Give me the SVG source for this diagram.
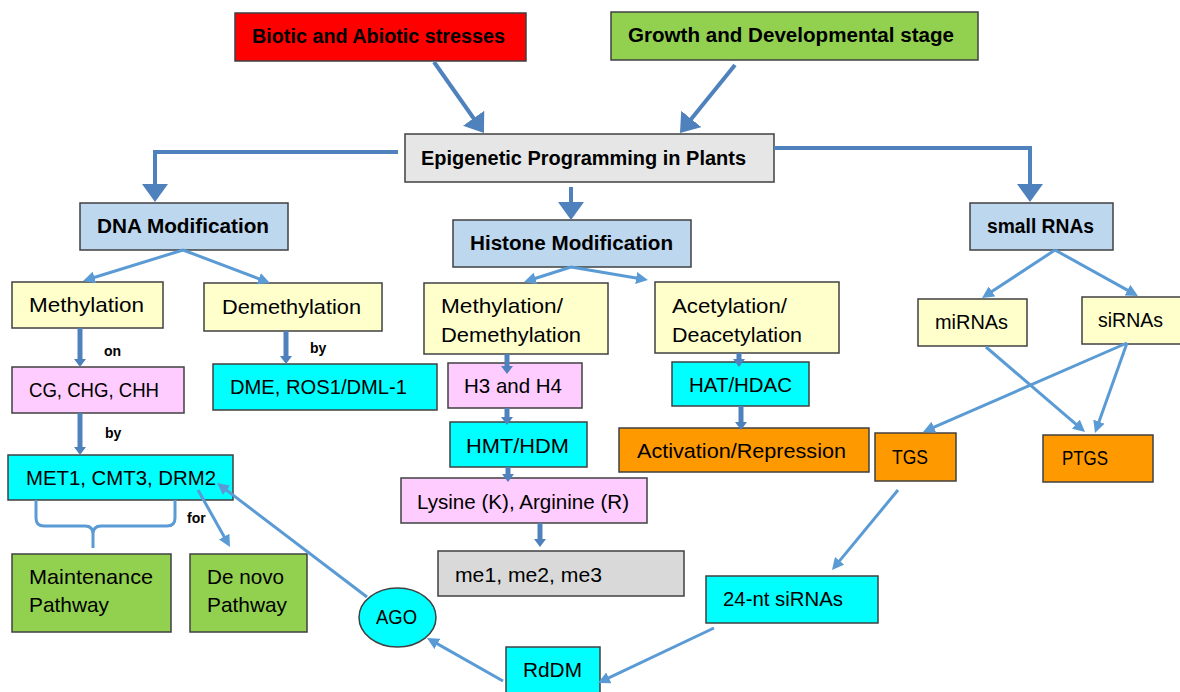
<svg xmlns="http://www.w3.org/2000/svg" width="1180" height="692" viewBox="0 0 1180 692">
<style>
text{font-family:"Liberation Sans",Arial,sans-serif;fill:#000}
.b{font-weight:bold;font-size:20px}
.r{font-size:21px}
.s{font-weight:bold;font-size:14px}
.box{stroke:#404040;stroke-width:1.5}
.red{fill:#ff0000}.grn{fill:#92d050}.gry{fill:#e6e6e6}.blu{fill:#bdd7ee}
.yel{fill:#ffffcc}.pnk{fill:#ffccff}.cyn{fill:#00ffff}.org{fill:#ff9900}.lgr{fill:#d9d9d9}
.thick{fill:none;stroke:#4f81bd;stroke-width:4}
.thin{fill:none;stroke:#5b9bd5;stroke-width:3}
.short{fill:none;stroke:#4f81bd;stroke-width:5}
</style>
<defs>
<marker id="big" viewBox="0 0 18 26" refX="4" refY="13" markerWidth="18" markerHeight="26" orient="auto" markerUnits="userSpaceOnUse"><path d="M0,0 L18,13 L0,26 Z" fill="#4f81bd"/></marker>
<marker id="tn" viewBox="0 0 12 12" refX="3" refY="6" markerWidth="12" markerHeight="12" orient="auto" markerUnits="userSpaceOnUse"><path d="M0,0 L12,6 L0,12 Z" fill="#5b9bd5"/></marker>
<marker id="sm" viewBox="0 0 8 12" refX="2" refY="6" markerWidth="8" markerHeight="12" orient="auto" markerUnits="userSpaceOnUse"><path d="M0,0 L8,6 L0,12 Z" fill="#4f81bd"/></marker>
</defs>
<rect width="1180" height="692" fill="#ffffff"/>
<g id="stress"><rect class="box red" x="235" y="13" width="291" height="48"/><text class="b" x="252" y="43" textLength="253" lengthAdjust="spacingAndGlyphs">Biotic and Abiotic stresses</text></g>
<g id="growth"><rect class="box grn" x="611" y="12" width="367" height="48"/><text class="b" x="628" y="42" textLength="326" lengthAdjust="spacingAndGlyphs">Growth and Developmental stage</text></g>
<g id="epi"><rect class="box gry" x="405" y="134" width="369" height="48"/><text class="b" x="421" y="165" textLength="325" lengthAdjust="spacingAndGlyphs">Epigenetic Programming in Plants</text></g>
<g id="dna"><rect class="box blu" x="80" y="203" width="208" height="47"/><text class="b" x="97" y="233" textLength="172" lengthAdjust="spacingAndGlyphs">DNA Modification</text></g>
<g id="histone"><rect class="box blu" x="453" y="220" width="238" height="47"/><text class="b" x="470" y="250" textLength="203" lengthAdjust="spacingAndGlyphs">Histone Modification</text></g>
<g id="srna"><rect class="box blu" x="970" y="203" width="143" height="47"/><text class="b" x="987" y="233" textLength="107" lengthAdjust="spacingAndGlyphs">small RNAs</text></g>
<g id="meth"><rect class="box yel" x="12" y="282" width="151" height="46"/><text class="r" x="29" y="312" textLength="115" lengthAdjust="spacingAndGlyphs">Methylation</text></g>
<g id="demeth"><rect class="box yel" x="204" y="283" width="178" height="48"/><text class="r" x="222" y="314" textLength="139" lengthAdjust="spacingAndGlyphs">Demethylation</text></g>
<g id="cg"><rect class="box pnk" x="12" y="367" width="172" height="46"/><text class="r" x="29" y="397" textLength="130" lengthAdjust="spacingAndGlyphs">CG, CHG, CHH</text></g>
<g id="dme"><rect class="box cyn" x="213" y="364" width="224" height="46"/><text class="r" x="230" y="394" textLength="177" lengthAdjust="spacingAndGlyphs">DME, ROS1/DML-1</text></g>
<g id="met1"><rect class="box cyn" x="8" y="455" width="225" height="45"/><text class="r" x="26" y="485" textLength="190" lengthAdjust="spacingAndGlyphs">MET1, CMT3, DRM2</text></g>
<g id="maint"><rect class="box grn" x="12" y="554" width="159" height="78"/><text class="r" x="29" y="584" textLength="124" lengthAdjust="spacingAndGlyphs">Maintenance</text><text class="r" x="29" y="612" textLength="80" lengthAdjust="spacingAndGlyphs">Pathway</text></g>
<g id="denovo"><rect class="box grn" x="190" y="554" width="117" height="78"/><text class="r" x="207" y="584" textLength="77" lengthAdjust="spacingAndGlyphs">De novo</text><text class="r" x="207" y="612" textLength="80" lengthAdjust="spacingAndGlyphs">Pathway</text></g>
<g id="ago"><ellipse class="box cyn" cx="397.5" cy="617.5" rx="38.5" ry="29.5"/><text class="r" x="376" y="624" textLength="41" lengthAdjust="spacingAndGlyphs">AGO</text></g>
<g id="mdm"><rect class="box yel" x="424" y="283" width="184" height="71"/><text class="r" x="441" y="313" textLength="122" lengthAdjust="spacingAndGlyphs">Methylation/</text><text class="r" x="441" y="342" textLength="140" lengthAdjust="spacingAndGlyphs">Demethylation</text></g>
<g id="acet"><rect class="box yel" x="655" y="282" width="184" height="71"/><text class="r" x="672" y="313" textLength="115" lengthAdjust="spacingAndGlyphs">Acetylation/</text><text class="r" x="672" y="342" textLength="130" lengthAdjust="spacingAndGlyphs">Deacetylation</text></g>
<g id="h3h4"><rect class="box pnk" x="448" y="363" width="134" height="45"/><text class="r" x="464" y="393" textLength="98" lengthAdjust="spacingAndGlyphs">H3 and H4</text></g>
<g id="hmt"><rect class="box cyn" x="450" y="422" width="137" height="45"/><text class="r" x="466" y="453" textLength="103" lengthAdjust="spacingAndGlyphs">HMT/HDM</text></g>
<g id="lys"><rect class="box pnk" x="401" y="478" width="246" height="45"/><text class="r" x="417" y="509" textLength="212" lengthAdjust="spacingAndGlyphs">Lysine (K), Arginine (R)</text></g>
<g id="me"><rect class="box lgr" x="438" y="551" width="246" height="45"/><text class="r" x="455" y="582" textLength="147" lengthAdjust="spacingAndGlyphs">me1, me2, me3</text></g>
<g id="hat"><rect class="box cyn" x="672" y="362" width="137" height="44"/><text class="r" x="689" y="392" textLength="103" lengthAdjust="spacingAndGlyphs">HAT/HDAC</text></g>
<g id="act"><rect class="box org" x="619" y="428" width="250" height="44"/><text class="r" x="637" y="458" textLength="209" lengthAdjust="spacingAndGlyphs">Activation/Repression</text></g>
<g id="mirna"><rect class="box yel" x="918" y="299" width="109" height="47"/><text class="r" x="935" y="329" textLength="73" lengthAdjust="spacingAndGlyphs">miRNAs</text></g>
<g id="sirna"><rect class="box yel" x="1082" y="297" width="100" height="47"/><text class="r" x="1098" y="327" textLength="65" lengthAdjust="spacingAndGlyphs">siRNAs</text></g>
<g id="tgs"><rect class="box org" x="875" y="433" width="81" height="48"/><text class="r" x="892" y="464" textLength="36" lengthAdjust="spacingAndGlyphs">TGS</text></g>
<g id="ptgs"><rect class="box org" x="1043" y="435" width="110" height="47"/><text class="r" x="1062" y="465" textLength="46" lengthAdjust="spacingAndGlyphs">PTGS</text></g>
<g id="nt24"><rect class="box cyn" x="706" y="576" width="172" height="47"/><text class="r" x="723" y="606" textLength="120" lengthAdjust="spacingAndGlyphs">24-nt siRNAs</text></g>
<g id="rddm"><rect class="box cyn" x="506" y="647" width="94" height="50"/><text class="r" x="523" y="677" textLength="59" lengthAdjust="spacingAndGlyphs">RdDM</text></g>
<g id="connectors">
<path class="thick" d="M434,62 L475.9,121.5" marker-end="url(#big)"/>
<path class="thick" d="M735,65 L688.8,122.1" marker-end="url(#big)"/>
<path class="thick" d="M398,152 H155 V188" marker-end="url(#big)"/>
<path class="thick" d="M774,148 H1030 V188" marker-end="url(#big)"/>
<path class="thick" d="M571,187 V206" marker-end="url(#big)"/>
<path class="thin" d="M183,250 L91.6,278.3" marker-end="url(#tn)"/>
<path class="thin" d="M183,250 L261.6,279.8" marker-end="url(#tn)"/>
<path class="thin" d="M571,267 L532.6,279.3" marker-end="url(#tn)"/>
<path class="thin" d="M571,267 L639.1,278.5" marker-end="url(#tn)"/>
<path class="thin" d="M1055,250 L989.5,293.1" marker-end="url(#tn)"/>
<path class="thin" d="M1055,250 L1130.1,291.6" marker-end="url(#tn)"/>
<path class="thin" d="M986,347 L1078.2,426.1" marker-end="url(#tn)"/>
<path class="thin" d="M1127,343 L931.2,428.4" marker-end="url(#tn)"/>
<path class="thin" d="M1127,343 L1098,424.5" marker-end="url(#tn)"/>
<path class="thin" d="M898,490 L837.7,563.1" marker-end="url(#tn)"/>
<path class="thin" d="M714,628 L606.1,679.1" marker-end="url(#tn)"/>
<path class="thin" d="M503,681 L434.8,642.4" marker-end="url(#tn)"/>
<path class="thin" d="M367,597 L224.2,488.4" marker-end="url(#tn)"/>
<path class="thin" d="M198,490 L225.6,539.2" marker-end="url(#tn)"/>
<path class="thin" d="M36,500 V518 Q36,526 44,526 H85 Q93,526 93,534 V548 M93,534 Q93,526 101,526 H167 Q175,526 175,518 V500"/>
<path class="short" d="M80,328 V361" marker-end="url(#sm)"/>
<path class="short" d="M80,413 V449" marker-end="url(#sm)"/>
<path class="short" d="M286,331 V358" marker-end="url(#sm)"/>
<path class="short" d="M507,354 V368" marker-end="url(#sm)"/>
<path class="short" d="M507,408 V419" marker-end="url(#sm)"/>
<path class="short" d="M508,467 V476" marker-end="url(#sm)"/>
<path class="short" d="M739,353 V361" marker-end="url(#sm)"/>
<path class="short" d="M741,406 V424" marker-end="url(#sm)"/>
<path class="short" d="M540,523 V541" marker-end="url(#sm)"/>
</g>
<g id="labels">
<text class="s" x="104" y="356">on</text>
<text class="s" x="310" y="353">by</text>
<text class="s" x="105" y="438">by</text>
<text class="s" x="187" y="523">for</text>
</g>
</svg>
